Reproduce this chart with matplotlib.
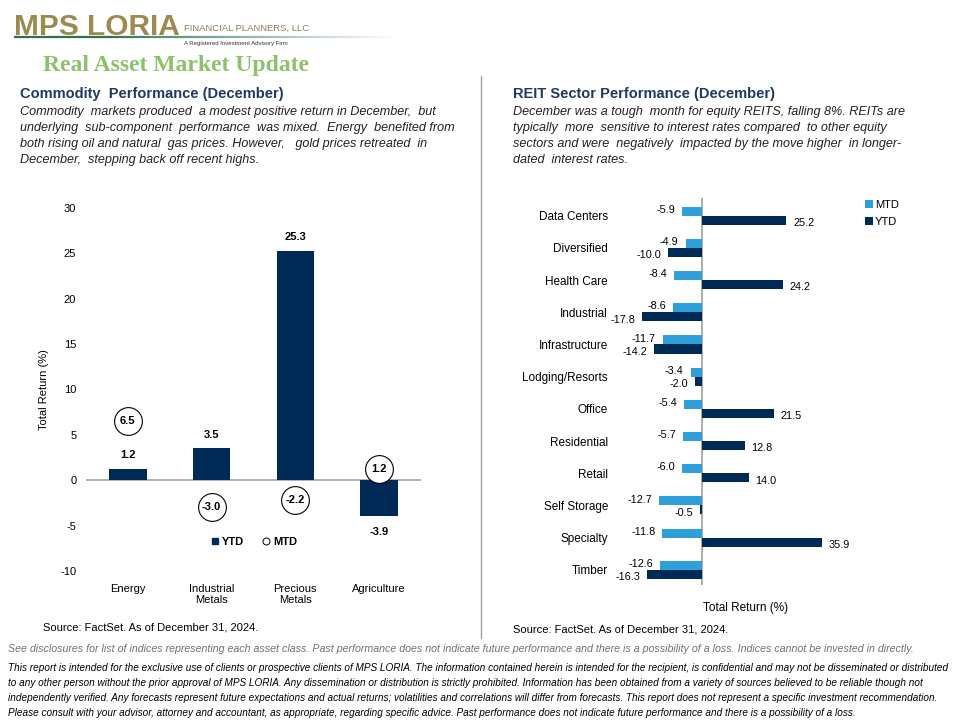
import numpy as np
import matplotlib.pyplot as plt
from matplotlib.lines import Line2D
from matplotlib.collections import LineCollection

# commodity chart data
commodities = ['Energy', 'Industrial\nMetals', 'Precious\nMetals', 'Agriculture']
commodity_ytd = [1.2, 3.5, 25.3, -3.9]
commodity_mtd = [6.5, -3.0, -2.2, 1.2]

# REIT sector data
reit_sectors = ['Data Centers', 'Diversified', 'Health Care', 'Industrial',
                'Infrastructure', 'Lodging/Resorts', 'Office', 'Residential',
                'Retail', 'Self Storage', 'Specialty', 'Timber']
reit_mtd = [-5.9, -4.9, -8.4, -8.6, -11.7, -3.4, -5.4, -5.7, -6.0, -12.7, -11.8, -12.6]
reit_ytd = [25.2, -10.0, 24.2, -17.8, -14.2, -2.0, 21.5, 12.8, 14.0, -0.5, 35.9, -16.3]

left_text = ["Commodity  markets produced  a modest positive return in December,  but",
             "underlying  sub-component  performance  was mixed.  Energy  benefited from",
             "both rising oil and natural  gas prices. However,   gold prices retreated  in",
             "December,  stepping back off recent highs."]
right_text = ["December was a tough  month for equity REITS, falling 8%. REITs are",
              "typically  more  sensitive to interest rates compared  to other equity",
              "sectors and were  negatively  impacted by the move higher  in longer-",
              "dated  interest rates."]
footer = ["This report is intended for the exclusive use of clients or prospective clients of MPS LORIA. The information contained herein is intended for the recipient, is confidential and may not be disseminated or distributed",
          "to any other person without the prior approval of MPS LORIA. Any dissemination or distribution is strictly prohibited. Information has been obtained from a variety of sources believed to be reliable though not",
          "independently verified. Any forecasts represent future expectations and actual returns; volatilities and correlations will differ from forecasts. This report does not represent a specific investment recommendation.",
          "Please consult with your advisor, attorney and accountant, as appropriate, regarding specific advice. Past performance does not indicate future performance and there is a possibility of a loss."]

NAVY = '#002A56'
LIGHT = '#2E9FD9'
HEAD = '#1F3864'
GOLD = '#9C8A4E'

plt.rcParams['font.family'] = ['Liberation Sans', 'DejaVu Sans']
plt.rcParams['axes.unicode_minus'] = False

W, H = 960, 720
fig = plt.figure(figsize=(9.6, 7.2), dpi=100)


def px(x, y):
    return x / W, 1 - y / H


# logo and title
fig.text(*px(14, 27), 'MPS LORIA', fontweight='bold', fontsize=21.5,
         color=GOLD, va='center', ha='left')
fig.text(*px(184, 28), 'FINANCIAL PLANNERS, LLC', fontsize=6.8,
         color='#8C7E52', va='center')
fig.text(*px(184, 43), 'A Registered Investment Advisory Firm',
         fontsize=4.3, color='#333333', va='center')
xs = np.linspace(14, 400, 60)
segs = [[px(xs[i], 37), px(xs[i + 1], 37)] for i in range(len(xs) - 1)]
alphas = np.clip(np.linspace(1.3, 0.0, len(segs)), 0, 1)
fig.add_artist(LineCollection(segs, colors=[(0.18, 0.45, 0.3, a) for a in alphas],
                              linewidths=1.6, transform=fig.transFigure))
fig.text(*px(43, 66), 'Real Asset Market Update', family=['Liberation Serif'],
         fontweight='bold', fontsize=17, color='#8CC26A', va='center')

# section headers and body text
fig.text(*px(20, 94), 'Commodity  Performance (December)', fontweight='bold',
         fontsize=10.5, color=HEAD, va='center')
fig.text(*px(513, 94), 'REIT Sector Performance (December)', fontweight='bold',
         fontsize=10.5, color=HEAD, va='center')
for i, line in enumerate(left_text):
    fig.text(*px(20, 112 + 16 * i), line, style='italic', fontsize=9.1,
             color='#222222', va='center')
for i, line in enumerate(right_text):
    fig.text(*px(513, 112 + 16 * i), line, style='italic', fontsize=9.1,
             color='#222222', va='center')

fig.add_artist(Line2D([481 / W, 481 / W], [1 - 76 / H, 1 - 638 / H],
                      color='#A0A0A0', lw=1, transform=fig.transFigure))

# ---- left: commodity performance ----
ax1 = fig.add_axes([86 / W, 1 - 571 / H, 335 / W, 363 / H])
x = np.arange(len(commodities))
ax1.bar(x, commodity_ytd, width=0.45, color=NAVY, zorder=2)
ax1.axhline(0, color='#A6A6A6', lw=1.2, zorder=1)
for xi, v in zip(x, commodity_ytd):
    off = 10 if v >= 0 else -12
    ax1.annotate(f'{v:.1f}', (xi, v), xytext=(0, off), textcoords='offset points',
                 ha='center', va='center', fontsize=8, fontweight='bold')
ax1.scatter(x, commodity_mtd, s=400, facecolor='white', edgecolor='black',
            linewidth=0.8, zorder=3)
for xi, v in zip(x, commodity_mtd):
    ax1.text(xi, v, f'{v:.1f}', ha='center', va='center', fontsize=8,
             fontweight='bold', zorder=4)
ax1.set_xlim(-0.5, len(commodities) - 0.5)
ax1.set_ylim(-10, 30)
ax1.set_yticks(np.arange(-10, 31, 5))
ax1.set_xticks(x)
ax1.set_xticklabels(commodities, fontsize=8)
ax1.tick_params(length=0, labelsize=8, pad=7)
ax1.tick_params(axis='x', pad=9)
for s in ax1.spines.values():
    s.set_visible(False)
ax1.set_ylabel('Total Return (%)', fontsize=8, labelpad=8)
handles = [Line2D([], [], marker='s', ls='', color=NAVY, markersize=5),
           Line2D([], [], marker='o', ls='', markerfacecolor='white',
                  markeredgecolor='black', markersize=5, markeredgewidth=0.7)]
ax1.legend(handles, ['YTD', 'MTD'], ncol=2, frameon=False, loc='center',
           bbox_to_anchor=(0.5, 0.08), prop={'weight': 'bold', 'size': 8},
           handletextpad=0.1, columnspacing=1.5, handlelength=1)
fig.text(*px(43, 627), 'Source: FactSet. As of December 31, 2024.', fontsize=8,
         va='center')

# ---- right: REIT sectors ----
ax2 = fig.add_axes([615 / W, 1 - 585 / H, 262 / W, 387 / H])
y = np.arange(len(reit_sectors))
h = 0.28
ax2.barh(y - h / 2, reit_mtd, height=h, color=LIGHT, label='MTD', zorder=2)
ax2.barh(y + h / 2, reit_ytd, height=h, color=NAVY, label='YTD', zorder=2)
ax2.axvline(0, color='#A0A0A0', lw=1.2, zorder=1)
for yi, v in zip(y, reit_mtd):
    off = 5 if v >= 0 else -5
    ax2.annotate(f'{v:.1f}', (v, yi - h / 2), xytext=(off, 1), textcoords='offset points',
                 ha='left' if v >= 0 else 'right', va='center', fontsize=7.8)
for yi, v in zip(y, reit_ytd):
    off = 5 if v >= 0 else -5
    ax2.annotate(f'{v:.1f}', (v, yi + h / 2), xytext=(off, -2), textcoords='offset points',
                 ha='left' if v >= 0 else 'right', va='center', fontsize=7.8)
ax2.set_xlim(-26.0, 52.4)
ax2.set_ylim(11.47, -0.55)
ax2.set_yticks(y)
ax2.set_yticklabels(reit_sectors, fontsize=8.5)
ax2.set_xticks([])
ax2.tick_params(length=0, pad=5)
for s in ax2.spines.values():
    s.set_visible(False)
ax2.set_xlabel('Total Return (%)', fontsize=8.5, labelpad=12)
ax2.legend(loc='upper left', bbox_to_anchor=px(855, 190), bbox_transform=fig.transFigure,
           frameon=False, fontsize=8, handlelength=0.7, handleheight=0.7,
           handletextpad=0.2, labelspacing=0.6)
fig.text(*px(513, 630), 'Source: FactSet. As of December 31, 2024.', fontsize=8,
         va='center')

# footer
fig.text(*px(8, 649), 'See disclosures for list of indices representing each asset class. '
         'Past performance does not indicate future performance and there is a possibility '
         'of a loss. Indices cannot be invested in directly.', style='italic',
         fontsize=7.7, color='#707070', va='center')
for i, line in enumerate(footer):
    fig.text(*px(8, 668 + 15 * i), line, style='italic', fontsize=7.2,
             color='black', va='center')

fig.savefig('out.png', dpi=100)
